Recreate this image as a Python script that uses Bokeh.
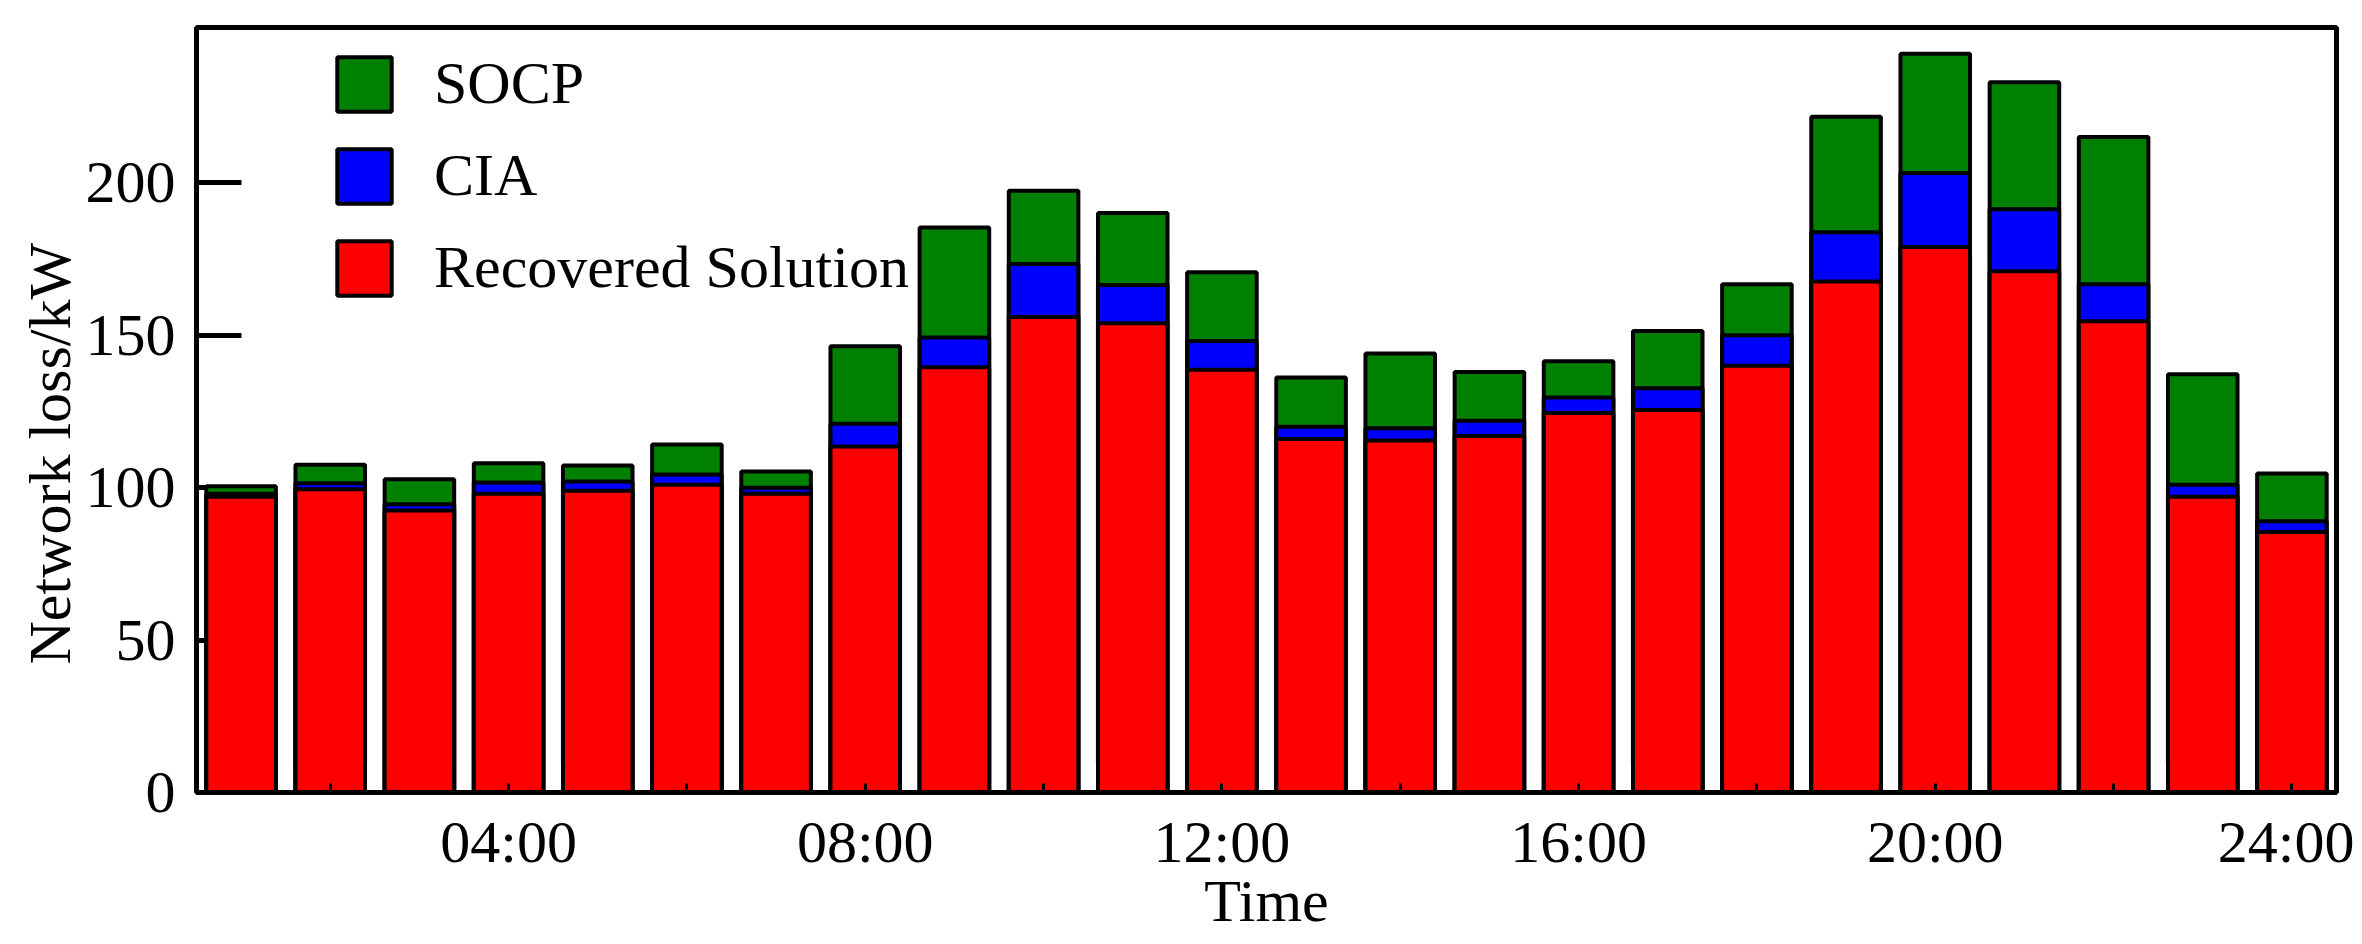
from bokeh.plotting import figure
from bokeh.models import ColumnDataSource, FixedTicker, LinearAxis, Title
from bokeh.embed import file_html
from bokeh.resources import INLINE

# ---- data ----
hours = list(range(1, 25))
socp = [100.5, 107.5, 102.8, 108.0, 107.3, 114.2, 105.3, 146.4, 185.4, 197.4, 190.1, 170.7,
        136.2, 144.0, 138.0, 141.5, 151.4, 166.8, 221.7, 242.4, 233.0, 215.1, 137.2, 104.7]
cia = [98.0, 101.5, 94.6, 101.7, 102.0, 104.3, 100.0, 121.0, 149.3, 173.4, 166.5, 148.1,
       120.0, 119.5, 122.0, 129.6, 132.6, 150.0, 183.8, 203.3, 191.4, 166.8, 101.0, 89.0]
recovered = [97.0, 99.5, 92.5, 98.0, 99.0, 101.0, 98.0, 113.5, 139.5, 156.0, 154.0, 138.7,
             116.0, 115.5, 117.0, 124.5, 125.5, 140.0, 167.7, 179.0, 171.0, 154.6, 97.0, 85.5]
series_names = ["SOCP", "CIA", "Recovered Solution"]
series_colors = ["#008000", "#0000FF", "#FF0000"]
major_ticks = [4, 8, 12, 16, 20, 24]
minor_ticks = [2, 6, 10, 14, 18, 22]
tick_labels = ["04:00", "08:00", "12:00", "16:00", "20:00", "24:00"]
y_ticks = [0, 50, 100, 150, 200]
y_title = "Network loss/kW"
x_title = "Time"

FONT = "Liberation Serif"
FS = "60px"

src = ColumnDataSource(dict(hour=hours, socp=socp, cia=cia, rec=recovered))

p = figure(width=2354, height=936, x_range=(0.5, 24.5), y_range=(0, 251),
           output_backend="svg", toolbar_location=None,
           min_border_left=196, min_border_right=18, min_border_top=27, min_border_bottom=142)

for col, name, color in zip(["socp", "cia", "rec"], series_names, series_colors):
    p.vbar(x="hour", top=col, bottom=0, width=0.78, source=src,
           fill_color=color, line_color="black", line_width=4, legend_label=name)

p.grid.visible = False
p.outline_line_color = "black"
p.outline_line_width = 5
p.background_fill_color = "white"
p.border_fill_color = "white"

# x axis
xa = p.xaxis[0]
xa.ticker = FixedTicker(ticks=major_ticks, minor_ticks=minor_ticks)
xa.major_label_overrides = {t: lab for t, lab in zip(major_ticks, tick_labels)}
xa.axis_line_width = 5
xa.major_tick_in = 9
xa.major_tick_out = 0
xa.minor_tick_in = 9
xa.minor_tick_out = 0
xa.major_tick_line_width = 3
xa.minor_tick_line_width = 3
xa.major_label_standoff = 16
xa.major_label_text_font = FONT
xa.major_label_text_font_size = FS
xa.major_label_text_color = "black"
xa.axis_label = x_title
xa.axis_label_standoff = -10
xa.axis_label_text_font = FONT
xa.axis_label_text_font_size = FS
xa.axis_label_text_font_style = "normal"
xa.axis_label_text_color = "black"

# y axis with the labels (no tick lines)
ya = p.yaxis[0]
ya.ticker = FixedTicker(ticks=y_ticks)
ya.axis_line_color = None
ya.major_tick_line_color = None
ya.minor_tick_line_color = None
ya.major_tick_in = 0
ya.major_tick_out = 0
ya.major_label_standoff = 21
ya.major_label_text_font = FONT
ya.major_label_text_font_size = FS
ya.major_label_text_color = "black"

# inward y ticks, painted beneath the bars as in the reference
yticks_axis = LinearAxis(ticker=FixedTicker(ticks=y_ticks), level="underlay",
                         axis_line_color=None, major_tick_in=45, major_tick_out=0,
                         major_tick_line_width=5, major_tick_line_color="black",
                         minor_tick_line_color=None, major_label_standoff=0,
                         major_label_text_font_size="1px", major_label_text_alpha=0)
p.left = [yticks_axis] + list(p.left)

# y-axis title (starts ~128 px above the frame bottom in the reference)
ytitle = Title(text=y_title, align="left", offset=128, standoff=0,
               text_font=FONT, text_font_size=FS, text_font_style="normal",
               text_color="black")
p.add_layout(ytitle, "left")

leg = p.legend[0]
leg.location = (134, 490)
leg.padding = 0
leg.margin = 0
leg.spacing = 23
leg.glyph_width = 68
leg.glyph_height = 68
leg.label_height = 68
leg.label_standoff = 36
leg.label_text_font = FONT
leg.label_text_font_size = FS
leg.label_text_color = "black"
leg.border_line_color = None
leg.background_fill_alpha = 0

open("out.html", "w").write(file_html(p, INLINE))
